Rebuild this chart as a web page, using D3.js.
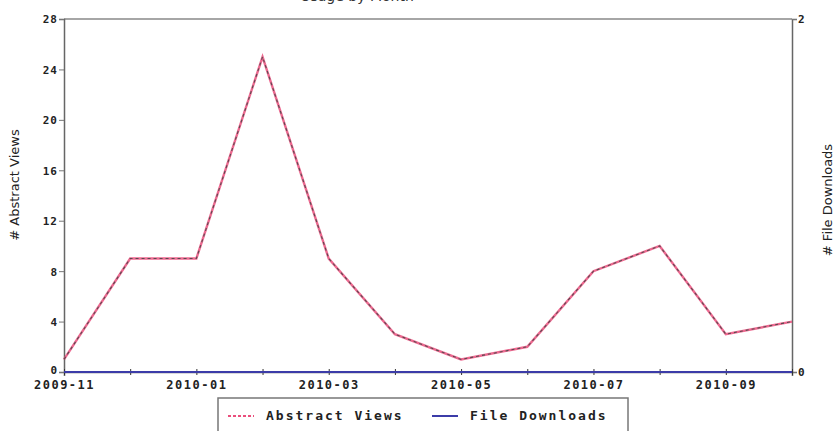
<!DOCTYPE html>
<html><head><meta charset="utf-8">
<script src="https://cdn.jsdelivr.net/npm/d3@7/dist/d3.min.js"></script>
<style>body{margin:0;background:#fff}svg{display:block}</style>
</head><body>
<script>
const months = ["2009-11","2009-12","2010-01","2010-02","2010-03","2010-04","2010-05","2010-06","2010-07","2010-08","2010-09","2010-10"];
const abstractViews = [1,9,9,25,9,3,1,2,8,10,3,4];
const fileDownloads = [0,0,0,0,0,0,0,0,0,0,0,0];
const leftTicks = [0,4,8,12,16,20,24,28];
const rightTicks = [0,2];
const labeledMonths = ["2009-11","2010-01","2010-03","2010-05","2010-07","2010-09"];
const seriesNames = ["Abstract Views","File Downloads"];
const title = "Usage by Month";

const W=836,H=431, L=64, R=792, T=19, B=372;
const svg=d3.select("body").append("svg").attr("width",W).attr("height",H);
const x=d3.scalePoint().domain(months).range([L,R]);
const y=d3.scaleLinear().domain([0,28]).range([B,T]);
const y2=d3.scaleLinear().domain([0,2]).range([B,T]);
const font="'DejaVu Sans Mono', monospace";

svg.append("text").attr("x",357).attr("y",1).attr("text-anchor","middle")
  .attr("font-family","DejaVu Sans").attr("font-size",14).attr("fill","#333").text(title);

// frame
svg.append("line").attr("x1",L).attr("x2",R).attr("y1",T).attr("y2",T).attr("stroke","#888").attr("stroke-width",1.5);

const gl=svg.append("g").attr("transform",`translate(${L},0)`)
  .call(d3.axisLeft(y).tickValues(leftTicks).tickSize(5).tickPadding(1));
const gr=svg.append("g").attr("transform",`translate(${R},0)`)
  .call(d3.axisRight(y2).tickValues(rightTicks).tickFormat(d3.format("d")).tickSize(5).tickPadding(1));
const gb=svg.append("g").attr("transform",`translate(0,${B})`)
  .call(d3.axisBottom(x).tickValues(months).tickSize(4).tickPadding(4)
    .tickFormat(d=>labeledMonths.includes(d)?d:""));
[gl,gr,gb].forEach(g=>{
  g.select(".domain").attr("stroke","#666").attr("stroke-width",1.5);
  g.selectAll(".tick line").attr("stroke","#777");
  g.selectAll("text").attr("font-family",font).attr("font-weight","bold").attr("font-size",11).attr("fill","#222");
});
gb.selectAll("text").attr("font-size",12).attr("letter-spacing",1.5);
gb.selectAll(".tick line").attr("y1",-3).attr("y2",3).attr("stroke","#333");
gl.selectAll(".tick text").attr("dy",d=>d===0?"0.1em":"0.35em").attr("letter-spacing",1);

// axis titles
svg.append("text").attr("transform","translate(19,185) rotate(-90)").attr("text-anchor","middle")
  .attr("font-family","DejaVu Sans").attr("font-size",13).attr("fill","#222").text("# Abstract Views");
svg.append("text").attr("transform","translate(832,200) rotate(-90)").attr("text-anchor","middle")
  .attr("font-family","DejaVu Sans").attr("font-size",13).attr("fill","#222").text("# File Downloads");

// series
const line=d3.line().x((d,i)=>x(months[i])).y(d=>y(d));
const line2=d3.line().x((d,i)=>x(months[i])).y(d=>y2(d));
svg.append("path").attr("d",line2(fileDownloads)).attr("fill","none").attr("stroke","#3c3ca8").attr("stroke-width",2);
svg.append("path").attr("d",line(abstractViews)).attr("fill","none").attr("stroke","#ea4f7c").attr("stroke-width",2.4).attr("opacity",0.85);
svg.append("path").attr("d",line(abstractViews)).attr("fill","none").attr("stroke","#5a4a50").attr("stroke-width",1.1).attr("stroke-dasharray","3,3");

// legend
const lg=svg.append("g");
lg.append("rect").attr("x",218).attr("y",398).attr("width",410).attr("height",50).attr("fill","#fff").attr("stroke","#777").attr("stroke-width",1.5);
const items=[{n:seriesNames[0],x:228,c:"#ea4f7c",dash:"3,2"},{n:seriesNames[1],x:432,c:"#3c3ca8",dash:null}];
items.forEach(it=>{
  const ln=lg.append("line").attr("x1",it.x).attr("x2",it.x+26).attr("y1",416).attr("y2",416).attr("stroke",it.c).attr("stroke-width",2);
  if(it.dash) ln.attr("stroke-dasharray",it.dash);
  lg.append("text").attr("x",it.x+38).attr("y",420).attr("font-family",font).attr("font-weight","bold").attr("font-size",13).attr("letter-spacing",2).attr("fill","#222").text(it.n);
});
</script>
</body></html>
